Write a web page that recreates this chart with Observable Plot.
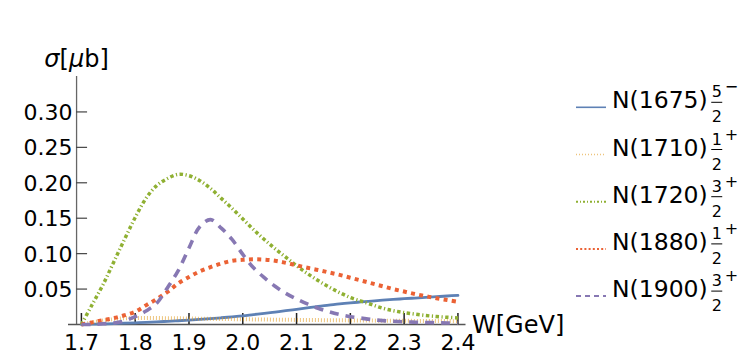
<!DOCTYPE html>
<html>
<head>
<meta charset="utf-8">
<script src="https://cdn.jsdelivr.net/npm/d3@7"></script>
<script src="https://cdn.jsdelivr.net/npm/@observablehq/plot@0.6"></script>
<style>
  html, body { margin: 0; padding: 0; background: white; }
  #wrap { position: relative; width: 743px; height: 361px; overflow: hidden; font-family: "DejaVu Sans", sans-serif; }
  #legend { position: absolute; left: 0; top: 0; }
</style>
</head>
<body>
<div id="wrap"></div>
<script>
// ---- data ----
const W = [1.70,1.72,1.74,1.76,1.78,1.80,1.82,1.84,1.86,1.88,1.90,1.92,1.94,1.96,1.98,2.00,2.02,2.04,2.06,2.08,2.10,2.12,2.14,2.16,2.18,2.20,2.22,2.24,2.26,2.28,2.30,2.32,2.34,2.36,2.38,2.40];
const N1675 = [0.0000,0.0004,0.0008,0.0012,0.0018,0.0024,0.0030,0.0037,0.0045,0.0053,0.0062,0.0072,0.0083,0.0095,0.0108,0.0122,0.0140,0.0157,0.0176,0.0195,0.0215,0.0235,0.0255,0.0272,0.0290,0.0305,0.0318,0.0331,0.0343,0.0354,0.0364,0.0373,0.0382,0.0392,0.0402,0.0412];
const N1710 = [0.0000,0.0030,0.0055,0.0075,0.0088,0.0093,0.0093,0.0091,0.0089,0.0087,0.0085,0.0082,0.0080,0.0078,0.0076,0.0074,0.0072,0.0070,0.0068,0.0066,0.0065,0.0063,0.0062,0.0060,0.0059,0.0058,0.0056,0.0055,0.0054,0.0053,0.0052,0.0051,0.0050,0.0049,0.0048,0.0047];
const N1720 = [0.000,0.028,0.056,0.088,0.120,0.151,0.178,0.196,0.206,0.212,0.210,0.203,0.192,0.178,0.164,0.149,0.134,0.120,0.107,0.095,0.083,0.072,0.062,0.053,0.045,0.038,0.033,0.028,0.023,0.0195,0.0168,0.0146,0.0127,0.0113,0.0102,0.0092];
const N1880 = [0.000,0.003,0.006,0.009,0.013,0.018,0.027,0.036,0.046,0.058,0.067,0.075,0.081,0.086,0.090,0.0913,0.0920,0.0915,0.0900,0.0870,0.0835,0.0800,0.0770,0.0735,0.0700,0.0660,0.0620,0.0580,0.0540,0.0500,0.0465,0.0430,0.0400,0.0370,0.0345,0.0320];
const N1900 = [0.000,0.000,0.001,0.002,0.005,0.011,0.019,0.030,0.052,0.076,0.108,0.138,0.148,0.136,0.120,0.099,0.080,0.066,0.054,0.044,0.036,0.029,0.023,0.018,0.014,0.011,0.009,0.007,0.0055,0.0045,0.0038,0.0032,0.0028,0.0025,0.0022,0.0020];

const xTicks = [1.7,1.8,1.9,2.0,2.1,2.2,2.3,2.4];
const yTicks = [0.05,0.10,0.15,0.20,0.25,0.30];
const xTickLabels = ["1.7","1.8","1.9","2.0","2.1","2.2","2.3","2.4"];
const yTickLabels = ["0.05","0.10","0.15","0.20","0.25","0.30"];

const names = ["N(1675)","N(1710)","N(1720)","N(1880)","N(1900)"];
const numerators = ["5","1","3","1","3"];
const denominators = ["2","2","2","2","2"];
const parities = ["\u2212","+","+","+","+"];
const colors = ["#5E81B5","#E19C24","#8FB032","#EB6235","#8778B3"];
const seriesValues = [N1675, N1710, N1720, N1880, N1900];

// styles
const lineStyles = [
  {strokeWidth: 2.8, strokeLinecap: "round"},
  {strokeWidth: 4, strokeDasharray: "1,2", strokeOpacity: 0.6, strokeLinecap: "butt"},
  {strokeWidth: 3.5, strokeDasharray: "3.5,2.5,1.2,2.5", strokeLinecap: "butt"},
  {strokeWidth: 4, strokeDasharray: "4,4.3", strokeLinecap: "butt"},
  {strokeWidth: 3.6, strokeDasharray: "9,7", strokeLinecap: "butt"}
];
const legendStyles = [
  {w: 1.6, dash: null, op: 1},
  {w: 1.5, dash: "1,2", op: 0.6},
  {w: 2, dash: "2,2,1,2", op: 1},
  {w: 2, dash: "2,2.2", op: 1},
  {w: 2, dash: "5,4", op: 1}
];

const xMin = 1.676, xMax = 2.415, yOrigin = 1.691;
const font = "DejaVu Sans";

const marks = [];
// axes lines
marks.push(Plot.ruleX([yOrigin], {y1: 0, y2: 0.35, stroke: "#666", strokeWidth: 1.3}));
marks.push(Plot.ruleY([0], {x1: xMin, x2: xMax, stroke: "#555", strokeWidth: 1.6}));
// ticks
marks.push(Plot.ruleY(yTicks, {y: d => d, x1: yOrigin, x2: yOrigin, insetRight: -11, stroke: "#444", strokeWidth: 1.2}));
marks.push(Plot.ruleX(xTicks, {x: d => d, y1: 0, y2: 0, insetTop: -11, stroke: "#222", strokeWidth: 1.5}));
// curves
seriesValues.forEach((vals, i) => {
  const data = W.map((w, j) => ({W: w, v: vals[j]}));
  marks.push(Plot.line(data, {x: "W", y: "v", stroke: colors[i], curve: "catmull-rom", strokeLinejoin: "round", ...lineStyles[i]}));
});
// tick labels
marks.push(Plot.text(xTicks, {x: d => d, y: 0, dy: 18, text: (d, i) => xTickLabels[i], fontSize: 22, fill: "black"}));
marks.push(Plot.text(yTicks, {x: yOrigin, y: d => d, dx: -4, dy: 1, text: (d, i) => yTickLabels[i], textAnchor: "end", fontSize: 22, fill: "black"}));
// axis titles
marks.push(Plot.text(["σ[μb]"], {x: yOrigin, y: 0.35, dy: -17, text: d => d, fontSize: 24, fill: "black"}));
marks.push(Plot.text(["W[GeV]"], {x: xMax, y: 0, dx: 6, dy: 1, text: d => d, textAnchor: "start", fontSize: 24, fill: "black"}));

const chart = Plot.plot({
  width: 743,
  height: 361,
  marginLeft: 68,
  marginRight: 743 - 465.5,
  marginTop: 76,
  marginBottom: 37,
  x: {domain: [xMin, xMax], axis: null},
  y: {domain: [0, 0.35], axis: null},
  style: {fontFamily: font, background: "white", overflow: "visible"},
  marks
});
document.getElementById("wrap").appendChild(chart);

// italic sigma and mu
d3.select(chart).selectAll("text").each(function() {
  if (this.textContent === "σ[μb]") {
    const t = d3.select(this);
    t.text(null);
    t.append("tspan").attr("font-style", "italic").text("σ");
    t.append("tspan").text("[");
    t.append("tspan").attr("font-style", "italic").text("μ");
    t.append("tspan").text("b]");
  }
});

// legend
const leg = d3.select("#wrap").append("svg")
  .attr("id", "legend").attr("width", 743).attr("height", 361)
  .style("font-family", font);
names.forEach((name, i) => {
  const y0 = 107.3 + i * 47.2;
  const st = legendStyles[i];
  const ln = leg.append("line").attr("x1", 576).attr("x2", 606).attr("y1", y0).attr("y2", y0)
    .attr("stroke", colors[i]).attr("stroke-width", st.w).attr("stroke-opacity", st.op);
  if (st.dash) ln.attr("stroke-dasharray", st.dash);
  const t = leg.append("text").attr("x", 612).attr("y", y0 + 1).attr("font-size", 23.5).text(name);
  const end = 612 + t.node().getComputedTextLength();
  const cx = end + 9;
  leg.append("text").attr("x", cx).attr("y", y0 - 10).attr("font-size", 16).attr("text-anchor", "middle").text(numerators[i]);
  leg.append("line").attr("x1", cx - 5.5).attr("x2", cx + 5.5).attr("y1", y0 - 5).attr("y2", y0 - 5).attr("stroke", "black").attr("stroke-width", 1);
  leg.append("text").attr("x", cx).attr("y", y0 + 15).attr("font-size", 16).attr("text-anchor", "middle").text(denominators[i]);
  leg.append("text").attr("x", cx + 8).attr("y", y0 - 15).attr("font-size", 16).text(parities[i]);
});
</script>
</body>
</html>
